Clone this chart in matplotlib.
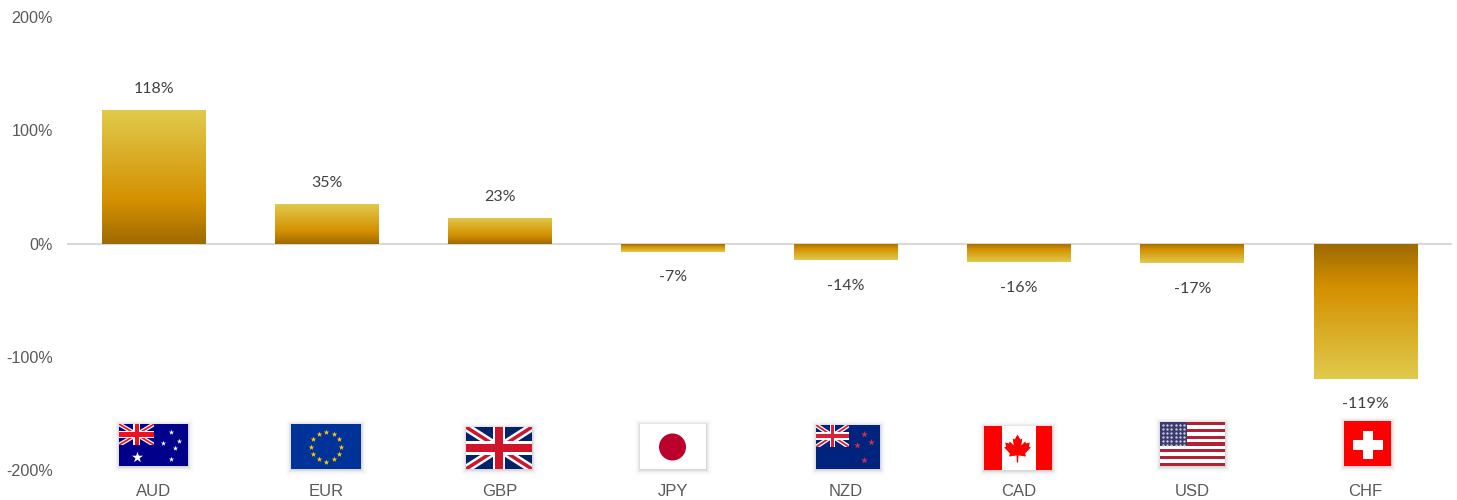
import numpy as np
import matplotlib.pyplot as plt
from matplotlib.colors import LinearSegmentedColormap
from matplotlib.patches import Rectangle, Circle, Polygon

currencies = ['AUD', 'EUR', 'GBP', 'JPY', 'NZD', 'CAD', 'USD', 'CHF']
values = [118, 35, 23, -7, -14.4, -16.4, -17.4, -119]
yticks = [-200, -100, 0, 100, 200]

# flag boxes in image pixels: left, top, right, bottom
flag_boxes = {
    'AUD': (119, 424, 188, 466),
    'EUR': (291, 424, 361, 469),
    'GBP': (466, 427, 532, 469),
    'JPY': (640, 424, 706, 469),
    'NZD': (816, 425, 880, 469),
    'CAD': (984, 426, 1052, 470),
    'USD': (1160, 422, 1225, 466),
    'CHF': (1344, 421, 1391, 466),
}

W, H = 1457, 500
fig = plt.figure(figsize=(W / 100, H / 100), dpi=100)
ax = fig.add_axes([67 / W, 1 - 470.5 / H, (1452 - 67) / W, 453.5 / H])

# bar gradient, from the tip of the bar to the zero line
grad = LinearSegmentedColormap.from_list(
    'gold', [(0, '#E0CA4C'), (0.68, '#D49000'), (1, '#9E6A00')])
bars = ax.bar(range(8), values, width=0.6, color='none')
for bar, v in zip(bars, values):
    x0 = bar.get_x()
    x1 = x0 + bar.get_width()
    g = np.linspace(0, 1, 128).reshape(-1, 1)
    im = ax.imshow(g, cmap=grad, aspect='auto', origin='upper',
                   extent=(x0, x1, 0, v), vmin=0, vmax=1, zorder=2)
    im.set_clip_path(bar)
    off = 21 if v > 0 else -25.5
    ax.annotate('%d%%' % round(v), (x0 + bar.get_width() / 2, v),
                xytext=(0, off * 0.72), textcoords='offset points',
                ha='center', va='center', fontsize=11.5, color='#404040',
                family='Lato')

ax.axhline(0, color='#D9D9D9', lw=1.5, zorder=1)
ax.set_xlim(-0.5, 7.5)
ax.set_ylim(-200, 200)
ax.set_yticks(yticks, ['%d%%' % t for t in yticks])
ax.set_xticks(range(8), currencies)
ax.tick_params(length=0, labelcolor='#595959')
ax.tick_params(axis='x', pad=10, labelsize=12)
ax.tick_params(axis='y', pad=10, labelsize=11.6)
for lab in ax.get_xticklabels() + ax.get_yticklabels():
    lab.set_family('Liberation Sans')
for s in ax.spines.values():
    s.set_visible(False)
ax.patch.set_alpha(0)

# overlay in pixel coordinates for the flags
ov = fig.add_axes([0, 0, 1, 1])
ov.set_xlim(0, W)
ov.set_ylim(H, 0)
ov.axis('off')


def shadow(b):
    l, t, r, u = b
    for d in np.arange(6, 0, -0.5):
        a = 0.003 + 0.035 * (1 - d / 6) ** 2
        ov.add_patch(Rectangle((l - d, t - d + 0.5), r - l + 2 * d, u - t + 2 * d,
                               fc='black', ec='none', alpha=a, zorder=1))


def rect(l, t, r, u, c, zorder=1.5):
    ov.add_patch(Rectangle((l, t), r - l, u - t, fc=c, ec='none', zorder=zorder))


def union_jack(l, t, r, u, blue='#00247D', red='#E4112B'):
    w = r - l
    h = u - t
    rect(l, t, r, u, blue)
    clip = Rectangle((l, t), w, h, transform=ov.transData)
    sw = h * 0.2
    for xs, ys in (((l, r), (t, u)), ((l, r), (u, t))):
        ln = ov.plot(xs, ys, color='white', lw=sw * 0.72, solid_capstyle='butt', zorder=2)[0]
        ln.set_clip_path(clip)
        ln = ov.plot(xs, ys, color=red, lw=sw * 0.3, solid_capstyle='butt', zorder=2.1)[0]
        ln.set_clip_path(clip)
    rect(l + w * 0.41, t, l + w * 0.59, u, 'white', zorder=2.5)
    rect(l, t + h * 0.33, r, t + h * 0.67, 'white', zorder=2.5)
    rect(l + w * 0.445, t, l + w * 0.555, u, red, zorder=2.6)
    rect(l, t + h * 0.4, r, t + h * 0.6, red, zorder=2.6)


def stars(xs, ys, c, s, marker='*'):
    ov.scatter(xs, ys, s=s, c=c, marker=marker, linewidths=0, zorder=3)


def flag_aud(b):
    l, t, r, u = b
    rect(l, t, r, u, '#00008B')
    union_jack(l, t, l + (r - l) * 0.51, t + (u - t) * 0.5, blue='#00008B', red='#F01020')
    stars([l + 52, l + 44, l + 60, l + 56, l + 52], [t + 8, t + 19, t + 17, t + 24, t + 35],
          'white', 16)
    stars([l + 18], [t + 33], 'white', 70)


def flag_eur(b):
    l, t, r, u = b
    rect(l, t, r, u, '#003399')
    cx, cy = (l + r) / 2, (t + u) / 2
    ang = np.arange(12) * np.pi / 6
    stars(cx + 15 * np.cos(ang), cy + 15 * np.sin(ang), '#FFCC00', 18)


def flag_jpy(b):
    l, t, r, u = b
    rect(l, t, r, u, 'white')
    ov.add_patch(Circle(((l + r) / 2 - 0.5, (t + u) / 2 + 0.5), 13.5, fc='#BC002D', ec='none', zorder=2))


def flag_nzd(b):
    l, t, r, u = b
    rect(l, t, r, u, '#00247D')
    union_jack(l, t, l + (r - l) * 0.515, t + (u - t) * 0.5, red='#D8213A')
    stars([l + 48, l + 41, l + 55, l + 48], [t + 9, t + 20, t + 17, t + 35], '#C8324F', 26)


def flag_cad(b):
    l, t, r, u = b
    rect(l, t, r, u, 'white')
    rect(l, t, l + 17.5, u, '#FF0000', zorder=2)
    rect(r - 16, t, r, u, '#FF0000', zorder=2)
    cx = (l + r) / 2 - 0.5
    leaf = [(0, -14), (3, -9), (5, -10), (4, -3), (8, -7), (9, -5), (13, -6), (12, -2),
            (14, -1), (8, 5), (9, 8), (1, 7), (0.7, 14), (-0.7, 14), (-1, 7), (-9, 8),
            (-8, 5), (-14, -1), (-12, -2), (-13, -6), (-9, -5), (-8, -7), (-4, -3),
            (-5, -10), (-3, -9)]
    cy = (t + u) / 2 + 0.5
    ov.add_patch(Polygon([(cx + a * 0.95, cy + c) for a, c in leaf], fc='#FF0000', ec='none', zorder=2))


def flag_usd(b):
    l, t, r, u = b
    rect(l, t, r, u, 'white')
    h = (u - t) / 13
    for i in range(0, 13, 2):
        rect(l, t + i * h, r, t + (i + 1) * h, '#B22234', zorder=2)
    rect(l, t, l + 27, t + 7 * h, '#3C3B6E', zorder=2.5)
    xs, ys = np.meshgrid(np.arange(l + 3, l + 27, 4.2), np.arange(t + 2.5, t + 7 * h, 4.2))
    ov.scatter(xs.ravel(), ys.ravel(), s=3, c='#C8C8E0', linewidths=0, zorder=3)


def flag_chf(b):
    l, t, r, u = b
    rect(l, t, r, u, '#FF0000')
    cx, cy = (l + r) / 2, (t + u) / 2 + 1
    rect(cx - 14.5, cy - 5, cx + 15, cy + 5, 'white', zorder=2)
    rect(cx - 5, cy - 14, cx + 5, cy + 14, 'white', zorder=2)


flag_funcs = {'AUD': flag_aud, 'EUR': flag_eur,
              'GBP': lambda b: union_jack(*b, blue='#012169', red='#D0142C'),
              'JPY': flag_jpy, 'NZD': flag_nzd, 'CAD': flag_cad,
              'USD': flag_usd, 'CHF': flag_chf}
for c in currencies:
    shadow(flag_boxes[c])
    flag_funcs[c](flag_boxes[c])

fig.savefig('out.png', dpi=100)
